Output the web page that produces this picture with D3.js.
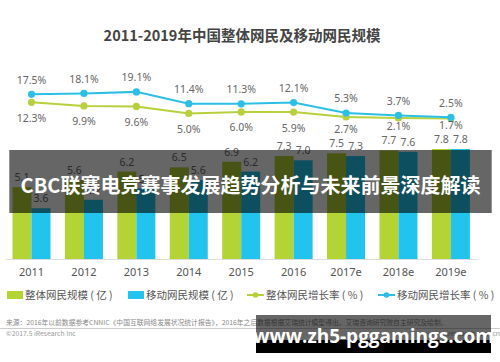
<!DOCTYPE html>
<html><head><meta charset="utf-8">
<script src="https://cdn.jsdelivr.net/npm/d3@7"></script>
<style>
html,body{margin:0;padding:0;background:#fff;}
svg{display:block;font-family:"Noto Sans CJK SC","Noto Sans",sans-serif;}
</style></head>
<body>
<svg id="c" width="500" height="362"></svg>
<script>
const years = ["2011","2012","2013","2014","2015","2016","2017e","2018e","2019e"];
const totalUsers = [5.1,5.6,6.2,6.5,6.9,7.3,7.5,7.7,7.8];
const mobileUsers = [3.6,4.2,5.0,5.6,6.2,7.0,7.3,7.6,7.8];
const totalGrowth = [12.3,9.9,9.6,5.0,6.0,5.9,2.7,2.1,1.7];
const mobileGrowth = [17.5,18.1,19.1,11.4,11.3,12.1,5.3,3.7,2.5];
const title = "2011-2019年中国整体网民及移动网民规模";
const legendLabels = ["整体网民规模 ( 亿 )","移动网民规模 ( 亿 )","整体网民增长率 ( % )","移动网民增长率 ( % )"];
const sourceText = "来源：2016年以前数据参考CNNIC《中国互联网络发展状况统计报告》，2016年之后数据根据艾瑞统计模型得出。艾瑞咨询研究院自主研究及绘制。";
const copyright = "©2017.5 iResearch Inc";
const siteText = "www.iresearch.com.cn";
const bannerText = "CBC联赛电竞赛事发展趋势分析与未来前景深度解读";
const watermark = "www.zh5-pggamings.com";

const GREEN = "#b4d334", CYAN = "#22c4ee", LGREEN = "#b7d03c", LBLUE = "#2bbfe6";
const svg = d3.select("#c");

svg.append("text").attr("x",242).attr("y",41).attr("text-anchor","middle")
  .attr("font-size",14.5).attr("font-weight","bold").attr("fill","#444").text(title);

const x = d3.scaleBand().domain(years).range([5.3,477.1]).paddingInner(0);
const sub = d3.scaleBand().domain(["t","m"]).range([x.bandwidth()/2-19, x.bandwidth()/2+19]);
const y = d3.scaleLinear().domain([0,8]).range([259,146.2]);
const y2 = d3.scaleLinear().domain([0,20]).range([121.1,90.5]);

// baseline axis
const xAxis = d3.axisBottom(x).tickSize(0).tickPadding(9);
const ax = svg.append("g").attr("transform","translate(0,259)").call(xAxis);
ax.select(".domain").attr("stroke","#ddd").attr("stroke-width",1);
ax.selectAll("text").attr("font-size",11).attr("fill","#555").attr("font-family","'Noto Sans',sans-serif");

const groups = svg.append("g").selectAll("g").data(years).join("g")
  .attr("transform",d=>`translate(${x(d)},0)`);
groups.append("rect").attr("x",sub("t")).attr("width",sub.bandwidth())
  .attr("y",(d,i)=>y(totalUsers[i])).attr("height",(d,i)=>y(0)-y(totalUsers[i])).attr("fill",GREEN);
groups.append("rect").attr("x",sub("m")).attr("width",sub.bandwidth())
  .attr("y",(d,i)=>y(mobileUsers[i])).attr("height",(d,i)=>y(0)-y(mobileUsers[i])).attr("fill",CYAN);
groups.append("text").attr("x",sub("t")+sub.bandwidth()/2).attr("y",(d,i)=>y(totalUsers[i])-6)
  .attr("text-anchor","middle").attr("font-size",10.5).attr("fill","#666").attr("font-family","'Noto Sans',sans-serif")
  .text((d,i)=>totalUsers[i].toFixed(1));
groups.append("text").attr("x",sub("m")+sub.bandwidth()/2).attr("y",(d,i)=>y(mobileUsers[i])-6)
  .attr("text-anchor","middle").attr("font-size",10.5).attr("fill","#666").attr("font-family","'Noto Sans',sans-serif")
  .text((d,i)=>mobileUsers[i].toFixed(1));

// lines
const cx = d=>x(d)+x.bandwidth()/2;
function drawLine(vals,color,labelY){
  const line = d3.line().x((v,i)=>cx(years[i])).y(v=>y2(v));
  svg.append("path").datum(vals).attr("d",line).attr("fill","none").attr("stroke",color).attr("stroke-width",2);
  svg.append("g").selectAll("circle").data(vals).join("circle")
    .attr("cx",(v,i)=>cx(years[i])).attr("cy",v=>y2(v)).attr("r",3.6).attr("fill",color);
  svg.append("g").selectAll("text").data(vals).join("text")
    .attr("x",(v,i)=>cx(years[i])).attr("y",labelY).attr("text-anchor","middle")
    .attr("font-size",10.5).attr("fill","#666").attr("font-family","'Noto Sans',sans-serif")
    .text(v=>v.toFixed(1)+"%");
}
// green labels below points, but kept clear of the bar value labels
drawLine(totalGrowth,LGREEN,(v,i)=>Math.min(y2(v)+15.7, y(totalUsers[i])-24)+3.8);
drawLine(mobileGrowth,LBLUE,(v)=>y2(v)-10.5);

// legend
const lg = svg.append("g").attr("font-size",10.5).attr("fill","#555");
lg.append("rect").attr("x",7).attr("y",291).attr("width",16).attr("height",8).attr("fill",GREEN);
lg.append("text").attr("x",25).attr("y",299).text(legendLabels[0]);
lg.append("rect").attr("x",128).attr("y",291).attr("width",16).attr("height",8).attr("fill",CYAN);
lg.append("text").attr("x",146).attr("y",299).text(legendLabels[1]);
lg.append("line").attr("x1",247).attr("x2",264).attr("y1",295).attr("y2",295).attr("stroke",LGREEN).attr("stroke-width",2);
lg.append("circle").attr("cx",255.5).attr("cy",295).attr("r",2.8).attr("fill",LGREEN);
lg.append("text").attr("x",266).attr("y",299).text(legendLabels[2]);
lg.append("line").attr("x1",378).attr("x2",395).attr("y1",295).attr("y2",295).attr("stroke",LBLUE).attr("stroke-width",2);
lg.append("circle").attr("cx",386.5).attr("cy",295).attr("r",2.8).attr("fill",LBLUE);
lg.append("text").attr("x",397).attr("y",299).text(legendLabels[3]);

// source
svg.append("text").attr("x",6).attr("y",325).attr("font-size",6.8).attr("fill","#888").text(sourceText);
svg.append("line").attr("x1",0).attr("x2",500).attr("y1",328.5).attr("y2",328.5).attr("stroke","#ccc");
svg.append("text").attr("x",6).attr("y",336).attr("font-size",6.8).attr("fill","#999").text(copyright);
svg.append("text").attr("x",500).attr("y",336).attr("text-anchor","end").attr("font-size",6.8).attr("fill","#999").text(siteText);

// overlays
svg.append("rect").attr("x",9.3).attr("y",150).attr("width",482.4).attr("height",63).attr("fill","rgba(0,0,0,0.6)");
svg.append("text").attr("x",250.5).attr("y",193).attr("text-anchor","middle").attr("font-size",20).attr("font-weight","bold")
  .attr("fill","#fff").text(bannerText);
svg.append("rect").attr("x",256).attr("y",315).attr("width",235).attr("height",38).attr("fill","rgba(0,0,0,0.6)");
svg.append("rect").attr("x",256).attr("y",340).attr("width",235).attr("height",13).attr("fill","#000");
svg.append("text").attr("x",373.5).attr("y",343).attr("text-anchor","middle").attr("font-size",19).attr("font-weight","bold")
  .attr("fill","#fff").attr("font-family","'Open Sans','Noto Sans',sans-serif").text(watermark);
</script>
</body></html>
